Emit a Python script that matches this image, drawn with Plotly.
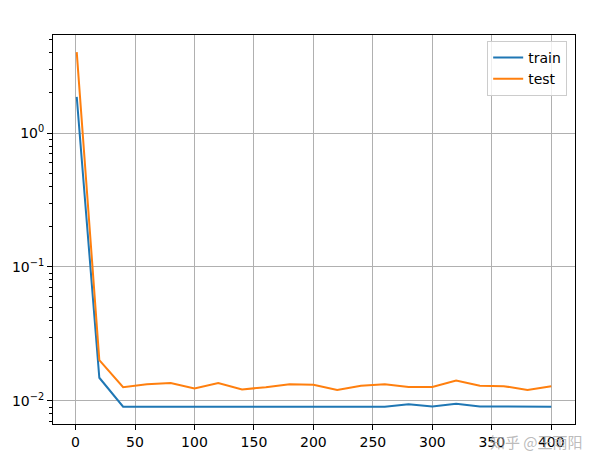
import plotly.graph_objects as go

epochs = [1, 20, 40, 60, 80, 100, 120, 140, 160, 180, 200, 220, 240, 260, 280, 300, 320, 340, 360, 380, 400]
train = [1.86, 0.0149, 0.00907, 0.00907, 0.0091, 0.00905, 0.00907, 0.00907, 0.00905, 0.00906, 0.00905, 0.0091, 0.00905, 0.00907, 0.00944, 0.0091, 0.00955, 0.0091, 0.0091, 0.0091, 0.00905]
test = [4.02, 0.0202, 0.01265, 0.0133, 0.01363, 0.0124, 0.0136, 0.0122, 0.01266, 0.0133, 0.0132, 0.0121, 0.0130, 0.0133, 0.0127, 0.0127, 0.0142, 0.0130, 0.0129, 0.0121, 0.0129]
x_ticks = [0, 50, 100, 150, 200, 250, 300, 350, 400]
y_ticks = [0.01, 0.1, 1]
y_ticktext = ["10<sup>\u22122</sup>", "10<sup>\u22121</sup>", "10<sup>0</sup>"]

minor_vals = [m * 10 ** k for k in (-3, -2, -1, 0) for m in range(2, 10)]

font = "DejaVu Sans"
fig = go.Figure()
fig.add_trace(go.Scatter(x=epochs, y=train, mode="lines", name="train",
                         line=dict(color="#1f77b4", width=2)))
fig.add_trace(go.Scatter(x=epochs, y=test, mode="lines", name="test",
                         line=dict(color="#ff7f0e", width=2)))

# page body has an 8px margin, so margins are shifted to compensate
fig.update_layout(
    width=600, height=465,
    margin=dict(l=45, r=33, t=27, b=49),
    paper_bgcolor="white", plot_bgcolor="white",
    font=dict(family=font, size=14, color="black"),
    showlegend=True,
    legend=dict(x=0.985, y=0.985, xanchor="right", yanchor="top",
                bgcolor="rgba(255,255,255,0.8)", bordercolor="#cccccc", borderwidth=1,
                font=dict(size=14), tracegroupgap=0),
    xaxis=dict(range=[-18.95, 419.95], tickvals=x_ticks, ticks="outside", ticklen=5,
               tickcolor="black", showline=True, linecolor="black", linewidth=1, mirror=True,
               showgrid=True, gridcolor="#b0b0b0", gridwidth=1, zeroline=False,
               automargin=False),
    yaxis=dict(type="log", range=[-2.172, 0.7316], tickvals=y_ticks, ticktext=y_ticktext,
               ticks="outside", ticklen=5, tickcolor="black",
               showline=True, linecolor="black", linewidth=1, mirror=True,
               showgrid=True, gridcolor="#b0b0b0", gridwidth=1, zeroline=False,
               automargin=False,
               minor=dict(tickvals=minor_vals, ticks="outside", ticklen=3, tickcolor="black",
                          showgrid=False)),
    annotations=[dict(text="知乎 @王雨阳", xref="paper", yref="paper", x=1.02, y=-0.045,
                      xanchor="right", yanchor="middle", showarrow=False,
                      font=dict(family="Noto Sans CJK SC", size=15, color="rgba(170,170,170,0.8)"))],
)

fig.write_html("out.html")
